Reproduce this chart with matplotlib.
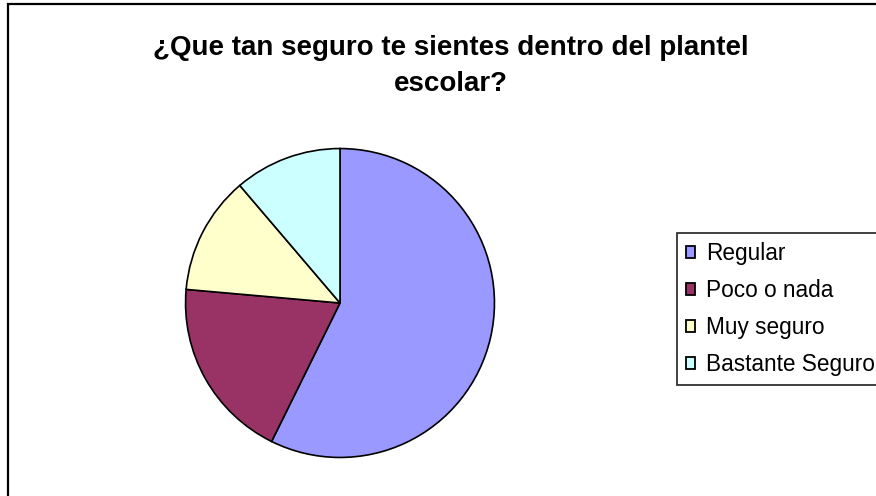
import matplotlib.pyplot as plt
from matplotlib.patches import Rectangle

# survey answers (counts)
labels = ['Regular', 'Poco o nada', 'Muy seguro', 'Bastante Seguro']
counts = [51, 17, 11, 10]
colors = ['#9999FF', '#993366', '#FFFFCC', '#CCFFFF']
title_lines = [u'\u00bfQue tan seguro te sientes dentro del plantel', 'escolar?']

plt.rcParams['font.family'] = ['Liberation Sans', 'DejaVu Sans']

W, H = 876, 496
fig = plt.figure(figsize=(W / 100, H / 100), dpi=100)

# outer chart border (only left and top visible, rest cropped)
fig.add_artist(Rectangle((8 / W, -0.1), 1.2, 1.1 - 4 / H, transform=fig.transFigure,
                         fill=False, edgecolor='black', linewidth=1.6, clip_on=False))

for i, line in enumerate(title_lines):
    fig.text(451 / W, 1 - (55 + 36 * i) / H, line, ha='center', va='baseline',
             fontsize=20, fontweight='bold')

# pie centered at (340, 303) px with radius 156 px
ax = fig.add_axes([184 / W, (H - 459) / H, 312 / W, 312 / H])
wedges, _ = ax.pie(counts, colors=colors, startangle=90, counterclock=False,
                   wedgeprops=dict(edgecolor='black', linewidth=1.2))
ax.set_xlim(-1.01, 1.01)
ax.set_ylim(-1.01, 1.01)
ax.axis('off')

leg = fig.legend(wedges, labels, loc='upper left', bbox_to_anchor=(677 / W, 1 - 233 / H),
                 fontsize=16.3, frameon=True, fancybox=False, handlelength=0.4,
                 handleheight=0.4, handletextpad=0.5, labelspacing=0.62,
                 borderpad=0.4, borderaxespad=0)
leg.get_frame().set_edgecolor('black')
leg.get_frame().set_linewidth(1.3)
for h in leg.legend_handles:
    h.set_linewidth(1.3)

fig.savefig('out.png', dpi=100)
